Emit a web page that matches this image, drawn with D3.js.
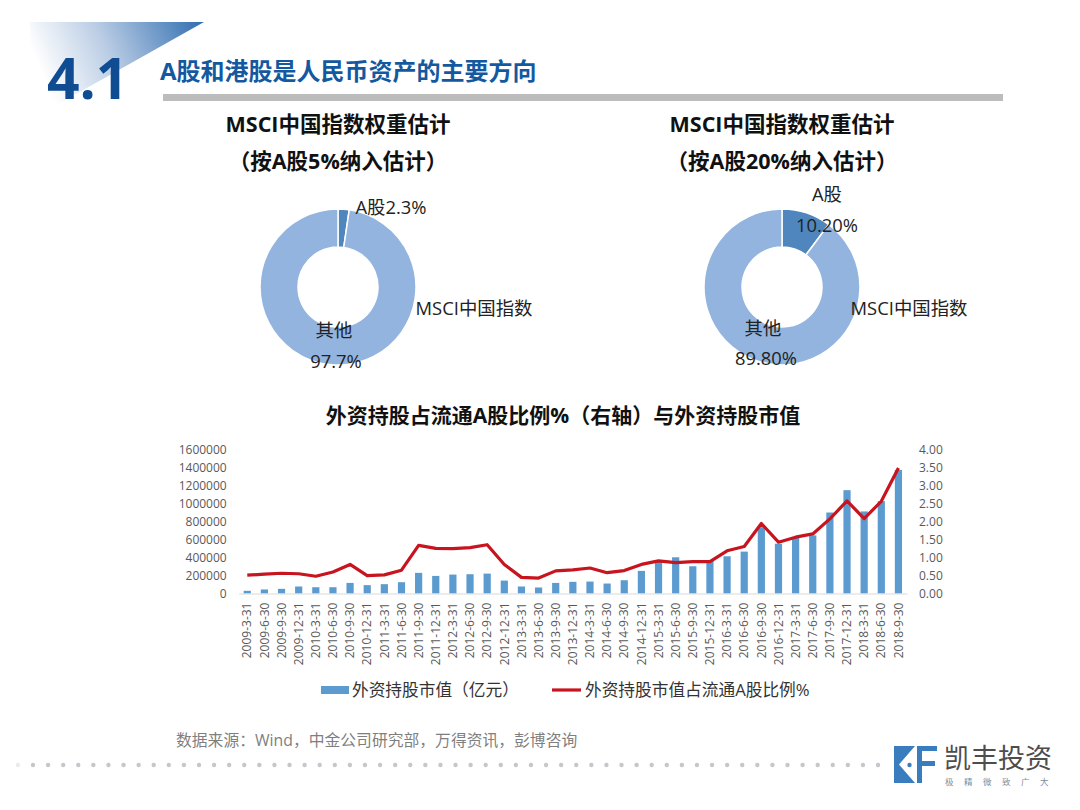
<!DOCTYPE html>
<html lang="zh-CN">
<head>
<meta charset="UTF-8">
<title>A股和港股是人民币资产的主要方向</title>
<script src="https://d3js.org/d3.v7.min.js"></script>
<style>
  html, body { margin: 0; padding: 0; background: #fff; }
  svg { display: block; }
  text { font-family: "Open Sans", "Noto Sans CJK SC", sans-serif; }
</style>
</head>
<body>
<script>
// donut data
var donutNames = ["A股", "其他"];
var donutLeft = [2.3, 97.7];
var donutRight = [10.2, 89.8];

// bottom chart data
var dates = ["2009-3-31","2009-6-30","2009-9-30","2009-12-31","2010-3-31","2010-6-30","2010-9-30","2010-12-31",
  "2011-3-31","2011-6-30","2011-9-30","2011-12-31","2012-3-31","2012-6-30","2012-9-30","2012-12-31",
  "2013-3-31","2013-6-30","2013-9-30","2013-12-31","2014-3-31","2014-6-30","2014-9-30","2014-12-31",
  "2015-3-31","2015-6-30","2015-9-30","2015-12-31","2016-3-31","2016-6-30","2016-9-30","2016-12-31",
  "2017-3-31","2017-6-30","2017-9-30","2017-12-31","2018-3-31","2018-6-30","2018-9-30"];
var marketValue = [30000,45000,52000,78000,70000,70000,118000,93000,
  104000,126000,230000,196000,211000,215000,222000,144000,
  78000,67000,118000,130000,133000,111000,148000,252000,
  352000,404000,304000,363000,415000,467000,740000,555000,
  622000,648000,903000,1152000,915000,1030000,1378000];
var holdingRatio = [0.51,0.54,0.565,0.55,0.48,0.60,0.81,0.50,
  0.52,0.65,1.34,1.26,1.25,1.28,1.36,0.81,
  0.45,0.43,0.63,0.66,0.71,0.58,0.64,0.81,
  0.91,0.86,0.89,0.89,1.19,1.31,1.95,1.43,
  1.57,1.66,2.08,2.58,2.09,2.57,3.5];
var leftTicks = [0,200000,400000,600000,800000,1000000,1200000,1400000,1600000];
var rightTicks = [0,0.5,1,1.5,2,2.5,3,3.5,4];

var width = 1080, height = 810;

var svg = d3.select("body").append("svg")
    .attr("width", width)
    .attr("height", height);

// header triangle
var defs = svg.append("defs");
var grad = defs.append("linearGradient").attr("id", "headGrad")
    .attr("x1", "0").attr("y1", "0.25").attr("x2", "1").attr("y2", "0");
grad.append("stop").attr("offset", "0").attr("stop-color", "#ffffff");
grad.append("stop").attr("offset", "0.4").attr("stop-color", "#bccee5");
grad.append("stop").attr("offset", "1").attr("stop-color", "#2f6db0");

svg.append("path")
    .attr("d", "M30,22 L204,22 L30,120 Z")
    .attr("fill", "url(#headGrad)");

svg.append("text").attr("x", 47).attr("y", 99)
    .attr("font-size", 57).attr("font-weight", 700)
    .attr("fill", "#0f4c92")
    .text("4.1");

svg.append("text").attr("x", 160).attr("y", 80)
    .attr("font-size", 24).attr("font-weight", 700)
    .attr("fill", "#14599f")
    .text("A股和港股是人民币资产的主要方向");

svg.append("rect").attr("x", 163).attr("y", 94)
    .attr("width", 840).attr("height", 7)
    .attr("fill", "#bcbcbc");

// titles
function title(x, y, txt, size) {
    svg.append("text").attr("x", x).attr("y", y)
        .attr("text-anchor", "middle")
        .attr("font-size", size).attr("font-weight", 700)
        .attr("fill", "#111")
        .text(txt);
}
title(338, 132, "MSCI中国指数权重估计", 21.5);
title(338, 169, "（按A股5%纳入估计）", 21.5);
title(782, 132, "MSCI中国指数权重估计", 21.5);
title(782, 169, "（按A股20%纳入估计）", 21.5);
title(563, 423, "外资持股占流通A股比例%（右轴）与外资持股市值", 21);

// donuts
var pie = d3.pie().sort(null);
var arc = d3.arc().innerRadius(40).outerRadius(78);
var donutColor = d3.scaleOrdinal().domain(donutNames).range(["#4f86bd", "#92b4de"]);

function donut(cx, cy, values) {
    var g = svg.append("g").attr("transform", "translate(" + cx + "," + cy + ")");
    g.selectAll("path").data(pie(values)).enter().append("path")
        .attr("d", arc)
        .attr("fill", function(d, i) { return donutColor(donutNames[i]); })
        .attr("stroke", "#fff")
        .attr("stroke-width", 1.5);
}
donut(338, 287, donutLeft);
donut(782, 287, donutRight);

function label(x, y, txt) {
    svg.append("text").attr("x", x).attr("y", y)
        .attr("text-anchor", "middle")
        .attr("font-size", 18.4)
        .attr("fill", "#222")
        .text(txt);
}
label(391, 214, "A股" + donutLeft[0] + "%");
label(474, 315, "MSCI中国指数");
label(334, 337, "其他");
label(336, 368, donutLeft[1] + "%");
label(827, 201, "A股");
label(827, 232, donutRight[0].toFixed(2) + "%");
label(909, 315, "MSCI中国指数");
label(763, 335, "其他");
label(766, 365, donutRight[1].toFixed(2) + "%");

// bars and line
var margin = {top: 450, left: 238.7, right: 173, bottom: 216.5};
var plotW = width - margin.left - margin.right,
    plotH = height - margin.top - margin.bottom;

var x = d3.scaleBand().domain(dates).range([0, plotW]).paddingInner(0.58).paddingOuter(0.29);
var yLeft = d3.scaleLinear().domain([0, 1600000]).range([plotH, 0]);
var yRight = d3.scaleLinear().domain([0, 4]).range([plotH, 0]);

var chart = svg.append("g")
    .attr("transform", "translate(" + margin.left + "," + margin.top + ")");

chart.selectAll("rect.bar").data(marketValue).enter().append("rect")
    .attr("class", "bar")
    .attr("x", function(d, i) { return x(dates[i]); })
    .attr("y", function(d) { return yLeft(d); })
    .attr("width", x.bandwidth())
    .attr("height", function(d) { return plotH - yLeft(d); })
    .attr("fill", "#5b9bd0");

var line = d3.line()
    .x(function(d, i) { return x(dates[i]) + x.bandwidth() / 2; })
    .y(function(d) { return yRight(d); });

chart.append("path").datum(holdingRatio)
    .attr("d", line)
    .attr("fill", "none")
    .attr("stroke", "#c8141e")
    .attr("stroke-width", 3.2)
    .attr("stroke-linejoin", "round");

// axes
var xAxis = chart.append("g")
    .attr("transform", "translate(0," + plotH + ")")
    .call(d3.axisBottom(x).tickSize(0));
xAxis.select(".domain").attr("stroke", "#d9d9d9");
xAxis.selectAll("text")
    .attr("transform", "rotate(-90)")
    .attr("x", -9).attr("y", 0).attr("dy", "0.35em")
    .style("text-anchor", "end")
    .style("font-size", "12px")
    .attr("fill", "#595959");

var axisLeft = chart.append("g")
    .call(d3.axisLeft(yLeft).tickValues(leftTicks).tickFormat(d3.format("d")).tickSize(0).tickPadding(12));
axisLeft.select(".domain").remove();
axisLeft.selectAll("text").style("font-size", "12px").attr("fill", "#595959");

var axisRight = chart.append("g")
    .attr("transform", "translate(" + plotW + ",0)")
    .call(d3.axisRight(yRight).tickValues(rightTicks).tickFormat(d3.format(".2f")).tickSize(0).tickPadding(12));
axisRight.select(".domain").remove();
axisRight.selectAll("text").style("font-size", "12px").attr("fill", "#595959");

// legend
svg.append("rect").attr("x", 321).attr("y", 686)
    .attr("width", 28).attr("height", 8).attr("fill", "#5b9bd0");
svg.append("text").attr("x", 352).attr("y", 696)
    .attr("font-size", 16.7).attr("fill", "#333")
    .text("外资持股市值（亿元）");
svg.append("line").attr("x1", 552).attr("x2", 581).attr("y1", 690).attr("y2", 690)
    .attr("stroke", "#c8141e").attr("stroke-width", 3.2);
svg.append("text").attr("x", 585).attr("y", 696)
    .attr("font-size", 16.7).attr("fill", "#333")
    .text("外资持股市值占流通A股比例%");

// source
svg.append("text").attr("x", 176).attr("y", 746)
    .attr("font-size", 15.8).attr("fill", "#7f7f7f")
    .text("数据来源：Wind，中金公司研究部，万得资讯，彭博咨询");

// footer dots
svg.append("g").selectAll("circle").data(d3.range(-1, 57)).enter().append("circle")
    .attr("cx", function(d) { return 33 + d * 15.09; })
    .attr("cy", 765)
    .attr("r", 2.2)
    .attr("fill", "#c4c7cc")
    .attr("opacity", function(d) { return d < 0 ? 0.35 : 1; });

// logo
var logo = svg.append("g").attr("transform", "translate(894,746)");
logo.append("path")
    .attr("d", "M0,0 H21 L5,18.5 L21,37 H0 Z")
    .attr("fill", "#3a7dbf");
logo.append("circle").attr("cx", 15.5).attr("cy", 19).attr("r", 2.2).attr("fill", "#3a7dbf");
logo.append("path")
    .attr("d", "M23,0 H43 V5 H28 V15 H41 V20 H28 V37 H23 Z")
    .attr("fill", "#3a7dbf");
svg.append("text").attr("x", 944).attr("y", 767.5)
    .attr("font-size", 27).attr("fill", "#4d4d4d")
    .text("凯丰投资");
svg.append("text").attr("x", 945).attr("y", 785)
    .attr("font-size", 8.5).attr("letter-spacing", "10.5px").attr("fill", "#7d8c9c")
    .text("极精微致广大");
</script>
</body>
</html>
